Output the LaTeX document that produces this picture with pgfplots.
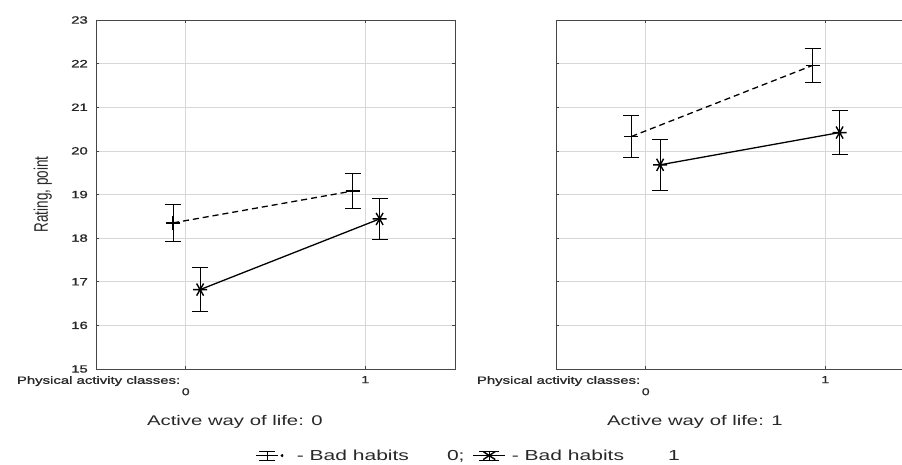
\documentclass[border=0pt]{standalone}
\usepackage{fontspec}
\setmainfont{Liberation Sans}[FakeStretch=1.45]
\newfontfamily\plainfont{Liberation Sans}
\newfontfamily\heavyfont{Liberation Sans}[FakeStretch=1.42, FakeBold=1.2]
\usepackage{pgfplots}
\pgfplotsset{compat=1.18}
\definecolor{gridgray}{RGB}{215,215,215}
\definecolor{axgray}{RGB}{70,70,70}
\definecolor{txt}{RGB}{40,40,40}
\pgfplotsset{
  panel/.style={
    scale only axis, width=359pt, height=349pt,
    xmin=-0.5, xmax=1.5, ymin=15, ymax=23,
    ytick={15,...,23}, xtick={1}, extra x ticks={0},
    extra x tick style={tick label style={yshift=-12pt}, grid=major},
    grid=major, major grid style={gridgray, line width=0.7pt},
    axis line style={axgray, line width=0.9pt},
    tick style={axgray, line width=0.7pt}, major tick length=3pt,
    tick align=inside, tick pos=both,
    /pgf/number format/assume math mode=true,
    yticklabel style={font=\heavyfont\fontsize{10.5}{12}\selectfont, text=txt, inner sep=0pt, xshift=-8pt},
    xticklabel style={font=\heavyfont\fontsize{10}{12}\selectfont, text=txt, inner sep=0pt, yshift=-7pt},
    xlabel style={font=\fontsize{14}{16}\selectfont, text=txt, at={(axis description cs:0.387,-0.152)}, anchor=center},
    clip=false,
    error bars/y dir=both, error bars/y explicit,
  },
  s0/.style={black, line width=1.3pt, dash pattern=on 6pt off 4pt, mark=+, mark size=7pt,
    mark options={solid, line width=1.4pt},
    error bars/error bar style={solid, line width=0.8pt},
    error bars/error mark options={rotate=90, mark size=8pt, line width=0.8pt}},
  s1/.style={black, line width=1.3pt, solid, mark=asterisk, mark size=7pt,
    mark options={solid, rotate=90, line width=1.4pt},
    error bars/error bar style={solid, line width=0.8pt},
    error bars/error mark options={rotate=90, mark size=8pt, line width=0.8pt}},
}
\begin{document}
\begin{tikzpicture}
\clip (-96pt,-95pt) rectangle (806pt,369pt);
\begin{axis}[panel, at={(0pt,0pt)}, anchor=south west,
  xlabel={Active way of life: 0},
  ylabel={\scalebox{1}[1.45]{\plainfont\fontsize{13.5}{16}\selectfont Rating, point}},
  ylabel style={at={(axis description cs:-0.148,0.5)}, anchor=center, text=txt},
  legend columns=2,
  legend style={draw=none, fill=none, at={(1.038,-0.248)}, anchor=center,
    font=\fontsize{14.5}{16}\selectfont, text=txt,
    /tikz/every even column/.append style={column sep=2pt}},
  legend cell align=left,
]
\addplot+[s0, legend image code/.code={
    \draw[solid, line width=1.3pt] (0pt,0pt) -- (22pt,0pt);
    \draw[solid, line width=0.8pt] (3pt,4.5pt) -- (19pt,4.5pt);
    \draw[solid, line width=1.2pt] (11pt,-5pt) -- (11pt,5pt);
    \draw[solid, line width=0.8pt] (3pt,-4.5pt) -- (19pt,-4.5pt);
    \fill (26pt,0pt) circle (0.8pt);
    \path (38pt,0pt);
  }] coordinates {
  (-0.07,18.35) +- (0,0.42)
  (0.93,19.08) +- (0,0.40)
};
\addlegendentry{- Bad habits\hspace{38pt}0;}
\addplot+[s1, legend image code/.code={
    \draw[solid, line width=1.3pt] (4pt,0pt) -- (36pt,0pt);
    \draw[solid, line width=0.8pt] (10pt,4.5pt) -- (30pt,4.5pt);
    \draw[solid, line width=1.2pt] (20pt,-5pt) -- (20pt,5pt);
    \draw[solid, line width=0.8pt] (10pt,-4.5pt) -- (30pt,-4.5pt);
    \draw[solid, line width=1.4pt] (14pt,-4pt) -- (26pt,4pt) (14pt,4pt) -- (26pt,-4pt);
    \path (0pt,0pt) (40pt,0pt);
  }] coordinates {
  (0.08,16.82) +- (0,0.50)
  (1.08,18.44) +- (0,0.47)
};
\addlegendentry{- Bad habits\hspace{44pt}1}
\node[anchor=north east, inner sep=0pt, text=txt, font=\heavyfont\fontsize{10.5}{12}\selectfont] at ([yshift=-7pt]axis cs:-0.03,15) {Physical activity classes:};
\end{axis}
\begin{axis}[panel, at={(460pt,0pt)}, anchor=south west,
  xlabel={Active way of life: 1},
  yticklabels={},
]
\addplot+[s0] coordinates {
  (-0.08,20.33) +- (0,0.49)
  (0.93,21.96) +- (0,0.38)
};
\addplot+[s1] coordinates {
  (0.08,19.68) +- (0,0.59)
  (1.08,20.42) +- (0,0.50)
};
\node[anchor=north east, inner sep=0pt, text=txt, font=\heavyfont\fontsize{10.5}{12}\selectfont] at ([yshift=-7pt]axis cs:-0.03,15) {Physical activity classes:};
\end{axis}
\end{tikzpicture}
\end{document}
